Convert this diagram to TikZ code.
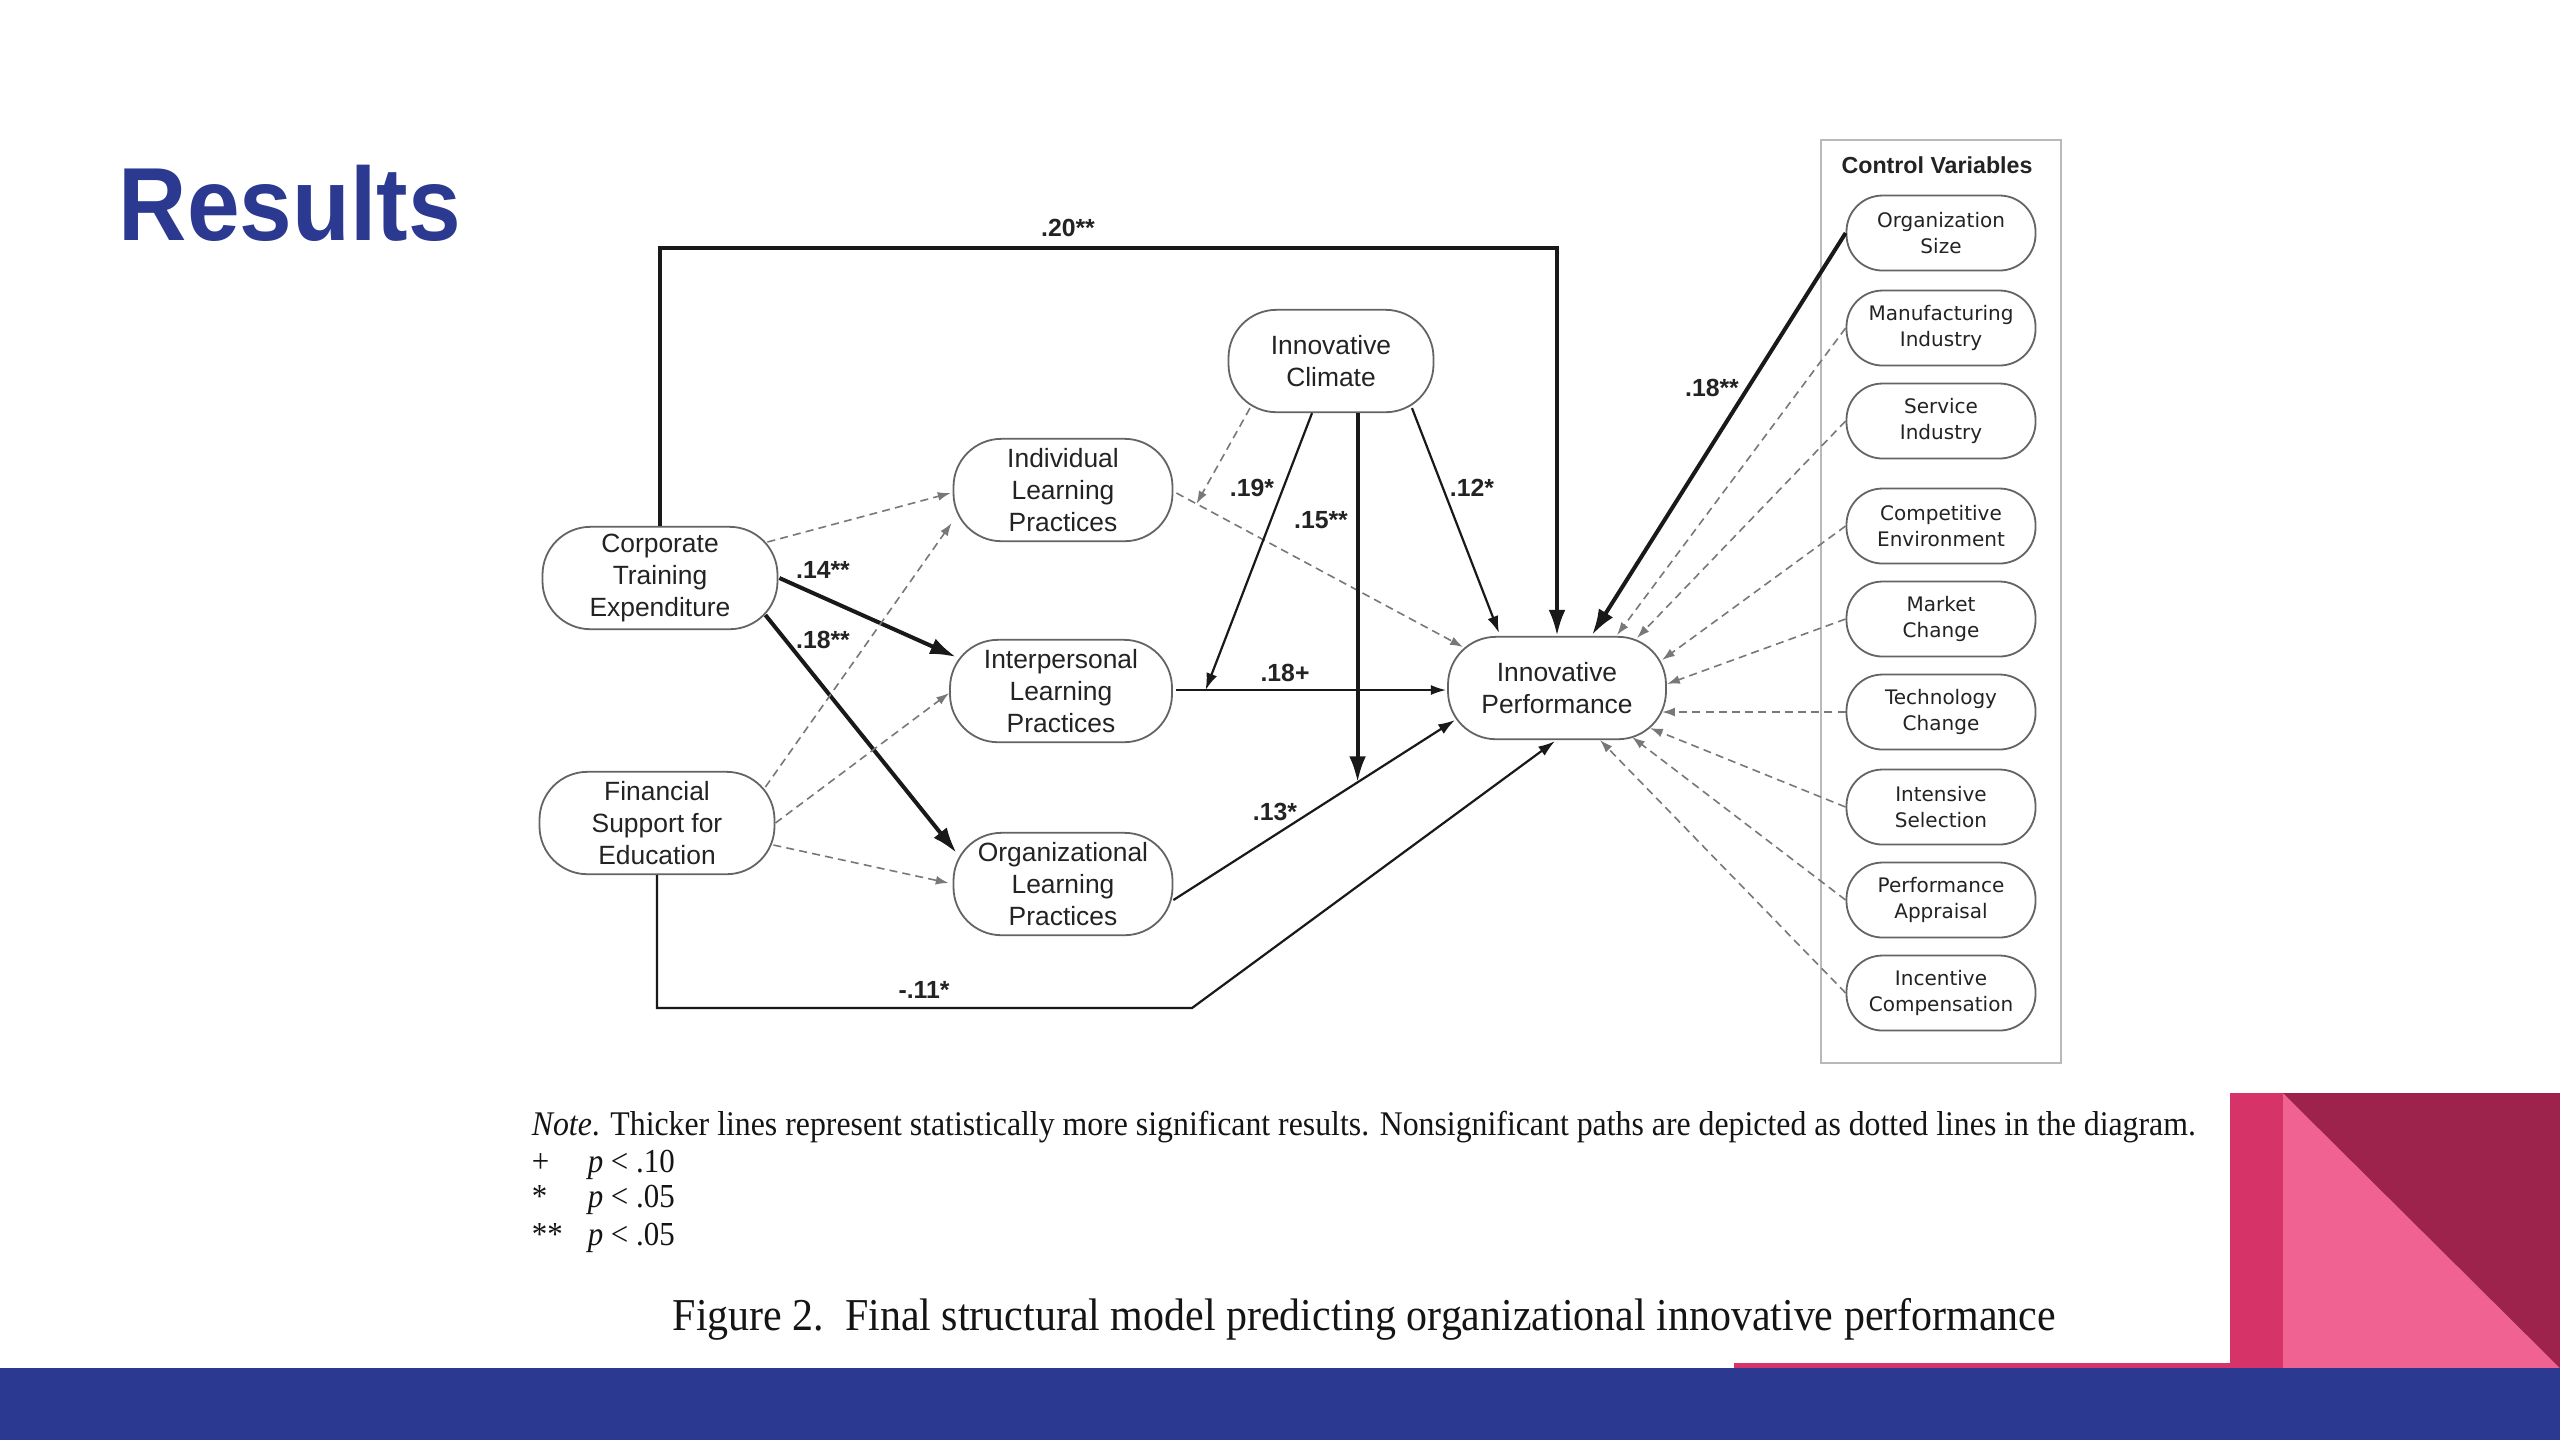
\documentclass[tikz,border=0pt]{standalone}
\usepackage{fontspec}
\setmainfont[FakeStretch=0.92]{Liberation Serif}
\newfontfamily\nodefont{Liberation Sans}
\newfontfamily\ctrlfont{DejaVu Sans}
\newfontfamily\titlefont[FakeStretch=0.91]{Liberation Sans}
\usetikzlibrary{arrows.meta,calc}
\definecolor{slideblue}{RGB}{43,57,144}
\definecolor{stripepink}{RGB}{214,52,105}
\definecolor{lightpink}{RGB}{240,98,146}
\definecolor{maroon}{RGB}{158,35,76}
\definecolor{nodegray}{RGB}{100,100,100}
\definecolor{txtc}{RGB}{35,35,35}
\definecolor{serifc}{RGB}{20,20,20}
\definecolor{linec}{RGB}{25,25,25}
\definecolor{dashc}{RGB}{120,120,120}
\definecolor{boxgray}{RGB}{185,185,185}
\tikzset{
  mainnode/.style={draw=nodegray, line width=0.45pt, rounded corners=12pt, minimum width=#1, minimum height=25.6pt, inner sep=0pt, align=center, font=\nodefont\fontsize{6.6}{8}\selectfont, text=txtc},
  ctrlnode/.style={draw=nodegray, line width=0.45pt, rounded corners=9pt, minimum width=47.25pt, minimum height=18.75pt, inner sep=0pt, align=center, font=\ctrlfont\fontsize{5}{6.6}\selectfont, text=txtc},
  lbl/.style={font=\nodefont\bfseries\fontsize{6.2}{7}\selectfont, text=txtc, inner sep=0pt},
  serif/.style={anchor=base west, inner sep=0pt, text=serifc, font=\fontsize{8.4}{9}\selectfont},
  pthick/.style={line width=1pt, draw=linec, -{Latex[length=6.5pt,width=4.2pt]}},
  pmed/.style={line width=0.55pt, draw=linec, -{Latex[length=4.2pt,width=2.8pt]}},
  pthin/.style={line width=0.45pt, draw=linec, -{Latex[length=3.8pt,width=2.5pt]}},
  pdash/.style={line width=0.4pt, draw=dashc, dash pattern=on 2pt off 1.3pt, -{Latex[length=3.2pt,width=2.2pt]}},
}
\begin{document}
\begin{tikzpicture}[x=0.25pt,y=-0.25pt]
\useasboundingbox (0,0) rectangle (2560,1440);
\fill[white] (0,0) rectangle (2560,1440);
% slide decoration
\fill[slideblue] (0,1368) rectangle (2560,1440);
\fill[stripepink] (1734,1363) rectangle (2230,1368);
\fill[stripepink] (2230,1093) rectangle (2283,1368);
\fill[lightpink] (2283,1093) rectangle (2560,1368);
\fill[maroon] (2283,1093) -- (2560,1093) -- (2560,1368) -- cycle;
% title
\node[anchor=base west, inner sep=0pt, text=slideblue, font=\titlefont\bfseries\fontsize{26}{30}\selectfont] (title) at (118,240) {Results};
% control variables box
\draw[boxgray, line width=0.5pt] (1821,140) rectangle (2061,1063);
\node[font=\nodefont\bfseries\fontsize{5.8}{7}\selectfont, text=txtc, inner sep=0pt] (cvhead) at (1937,165) {Control Variables};
% main nodes
\node[mainnode=58.75pt] (cte) at (660,578) {Corporate\\Training\\Expenditure};
\node[mainnode=58.75pt] (fse) at (657,823) {Financial\\Support for\\Education};
\node[mainnode=54.75pt] (ilp) at (1063,490) {Individual\\Learning\\Practices};
\node[mainnode=55.5pt] (intlp) at (1061,691) {Interpersonal\\Learning\\Practices};
\node[mainnode=54.75pt] (olp) at (1063,884) {Organizational\\Learning\\Practices};
\node[mainnode=51.25pt] (ic) at (1331,361) {Innovative\\Climate};
\node[mainnode=54.5pt] (ip) at (1557,688) {Innovative\\Performance};
% control nodes
\node[ctrlnode] (os) at (1941,233) {Organization\\Size};
\node[ctrlnode] (mi) at (1941,328) {Manufacturing\\Industry};
\node[ctrlnode] (si) at (1941,421) {Service\\Industry};
\node[ctrlnode] (ce) at (1941,526) {Competitive\\Environment};
\node[ctrlnode] (mc) at (1941,619) {Market\\Change};
\node[ctrlnode] (tc) at (1941,712) {Technology\\Change};
\node[ctrlnode] (is) at (1941,807) {Intensive\\Selection};
\node[ctrlnode] (pa) at (1941,900) {Performance\\Appraisal};
\node[ctrlnode] (icm) at (1941,993) {Incentive\\Compensation};
% top path
\coordinate (t2) at (1557,248);
\draw[pthick] (cte.north) |- (t2) -- (ip.north);
\node[lbl] (l20) at (1068,228) {.20**};
% CTE paths
\draw[pdash] ($(cte.east)+(-11,-36)$) -- ($(ilp.west)+(-2,3)$);
\draw[pthick] ($(cte.east)+(1,0)$) -- ($(intlp.west)+(7,-34)$);
\draw[pthick] ($(cte.east)+(-13,37)$) -- ($(olp.west)+(4,-31)$);
\node[lbl] (l14) at (823,570) {.14**};
\node[lbl] (l18a) at (823,640) {.18**};
% FSE paths
\draw[pdash] ($(fse.east)+(-10,-36)$) -- ($(ilp.west)+(-1,33)$);
\draw[pdash] (fse.east) -- ($(intlp.west)+(0,2)$);
\draw[pdash] ($(fse.east)+(-2,22)$) -- ($(olp.west)+(-4,-1)$);
\coordinate (b1) at (1192,1008);
\draw[pmed] (fse.south) |- (b1) -- ($(ip.south)+(-2,1)$);
\node[lbl] (l11) at (924,990) {-.11*};
% learning practices to performance
\draw[pdash] ($(ilp.east)+(3,3)$) -- coordinate[pos=0.07] (m1) ($(ip)+(-94,-41)$);
\draw[pthin] ($(intlp.east)+(3,-1)$) -- coordinate[pos=0.11] (m2) ($(ip.west)+(-1,2)$);
\draw[pmed] ($(olp.east)+(0,16)$) -- coordinate[pos=0.654] (m3) ($(ip)+(-102,32)$);
\node[lbl] (l18p) at (1285,673) {.18+};
\node[lbl] (l13) at (1275,812) {.13*};
% innovative climate paths
\draw[pdash] ($(ic.south)+(-81,-5)$) -- (m1);
\draw[pmed] ($(ic.south)+(-19,0)$) -- (m2);
\draw[pthick] (m3 |- ic.south) -- (m3);
\draw[pmed] ($(ic.south)+(81,-5)$) -- ($(ip.north)+(-58,-3)$);
\node[lbl] (l19) at (1252,488) {.19*};
\node[lbl] (l15) at (1321,520) {.15**};
\node[lbl] (l12) at (1472,488) {.12*};
% control paths
\draw[pthick] (os.west) -- ($(ip)+(35,-53)$);
\node[lbl] (l18c) at (1712,388) {.18**};
\draw[pdash] (mi.west) -- ($(ip)+(60,-53)$);
\draw[pdash] (si.west) -- ($(ip)+(80,-50)$);
\draw[pdash] (ce.west) -- ($(ip)+(105,-28)$);
\draw[pdash] (mc.west) -- ($(ip)+(110,-4)$);
\draw[pdash] (tc.west) -- ($(ip)+(105,24)$);
\draw[pdash] (is.west) -- ($(ip)+(93,40)$);
\draw[pdash] (pa.west) -- ($(ip)+(75,49)$);
\draw[pdash] (icm.west) -- ($(ip)+(43,52)$);
% note and legend
\node[serif] (note) at (531,1135) {\resizebox{416pt}{!}{\fontsize{7.8}{9}\selectfont\textit{Note}. Thicker lines represent statistically more significant results. Nonsignificant paths are depicted as dotted lines in the diagram.}};
\node[serif] (s1) at (531,1172) {+};
\node[serif] (s2) at (531,1207) {*};
\node[serif] (s3) at (531,1245) {**};
\node[serif] (p1) at (587,1172) {\textit{p} < .10};
\node[serif] (p2) at (587,1207) {\textit{p} < .05};
\node[serif] (p3) at (587,1245) {\textit{p} < .05};
\node[serif] (caption) at (672,1330) {\resizebox{345.75pt}{!}{\fontsize{10.5}{12}\selectfont Figure 2.\ \ Final structural model predicting organizational innovative performance}};
\end{tikzpicture}
\end{document}
